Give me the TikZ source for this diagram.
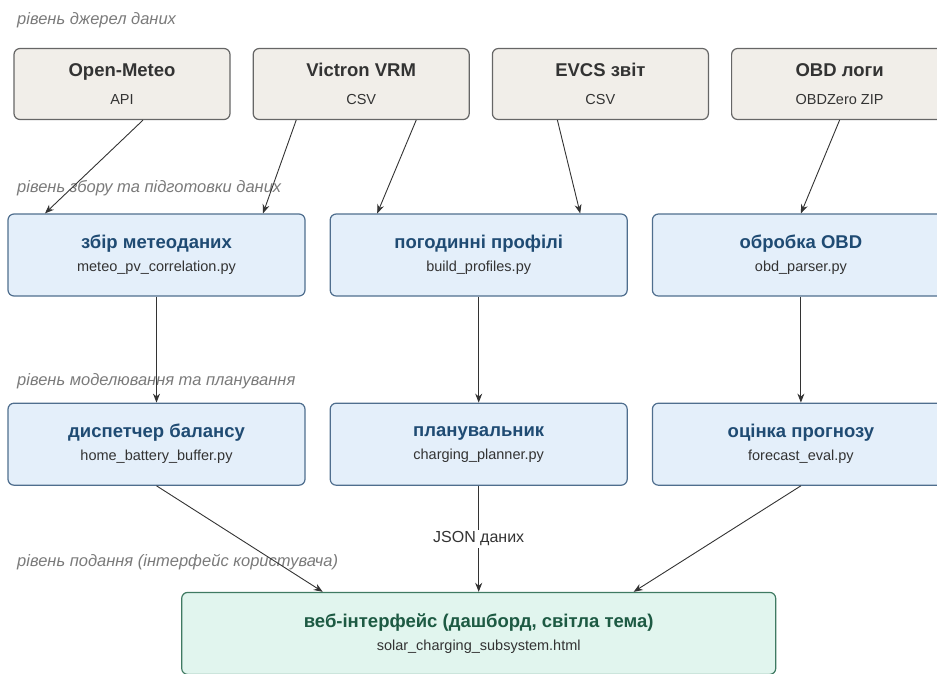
\documentclass[tikz,border=0pt]{standalone}
\usepackage{fontspec}
\setmainfont{Liberation Sans}
\usetikzlibrary{positioning, arrows.meta}
\definecolor{srcfill}{HTML}{F1EEE9}
\definecolor{srcline}{HTML}{666666}
\definecolor{procfill}{HTML}{E4EFFA}
\definecolor{procline}{HTML}{4F6E8E}
\definecolor{proctext}{HTML}{1F4B73}
\definecolor{webfill}{HTML}{E1F5EE}
\definecolor{webline}{HTML}{3F7A62}
\definecolor{webtext}{HTML}{1D5A43}
\definecolor{lvlgray}{HTML}{7A7A7A}
\newcommand\ttlfont{\fontsize{18.5}{21}\selectfont\bfseries}
\tikzset{
  srcbox/.style  = {draw=srcline, fill=srcfill, line width=1.2pt, rounded corners=6pt, minimum width=216pt, minimum height=71pt, align=center, text=black!80, font=\fontsize{14.5}{16}\selectfont},
  procbox/.style = {draw=procline, fill=procfill, line width=1.2pt, rounded corners=6pt, minimum width=297pt, minimum height=82pt, align=center, text=black!80, font=\fontsize{14.5}{16}\selectfont},
  webbox/.style  = {draw=webline, fill=webfill, line width=1.2pt, rounded corners=6pt, minimum width=594pt, minimum height=82pt, align=center, text=black!80, font=\fontsize{14.5}{16}\selectfont},
  lvl/.style     = {anchor=west, inner sep=0pt, text=lvlgray, font=\fontsize{16.5}{18}\selectfont\itshape},
  arrow/.style   = {-{Stealth[length=9pt, width=7pt]}, line width=0.9pt, draw=black!80}
}

\begin{document}
\begin{tikzpicture}[x=1pt, y=-1pt]
  \clip (0,0) rectangle (937,673);
  % level captions
  \node[lvl] (lvlsrc)  at (17,20)  {рівень джерел даних};
  \node[lvl] (lvlprep) at (17,188) {рівень збору та підготовки даних};
  \node[lvl] (lvlmod)  at (17,381) {рівень моделювання та планування};
  \node[lvl] (lvlui)   at (17,562) {рівень подання (інтерфейс користувача)};

  % data sources
  \node[srcbox] (om) at (122,84) {{\ttlfont Open-Meteo}\\[12pt] API};
  \node[srcbox, right=22pt of om]   (vrm)  {{\ttlfont Victron VRM}\\[12pt] CSV};
  \node[srcbox, right=22pt of vrm]  (evcs) {{\ttlfont EVCS звіт}\\[12pt] CSV};
  \node[srcbox, right=22pt of evcs] (obd)  {{\ttlfont OBD логи}\\[12pt] OBDZero ZIP};

  % preparation
  \node[procbox] (meteo) at (156.5,255) {{\ttlfont\color{proctext} збір метеоданих}\\[7pt] meteo\_pv\_correlation.py};
  \node[procbox, right=24pt of meteo] (prof) {{\ttlfont\color{proctext} погодинні профілі}\\[7pt] build\_profiles.py};
  \node[procbox, right=24pt of prof]  (obdp) {{\ttlfont\color{proctext} обробка OBD}\\[7pt] obd\_parser.py};

  % modelling
  \node[procbox, below=106pt of meteo] (disp) {{\ttlfont\color{proctext} диспетчер балансу}\\[7pt] home\_battery\_buffer.py};
  \node[procbox, below=106pt of prof]  (plan) {{\ttlfont\color{proctext} планувальник}\\[7pt] charging\_planner.py};
  \node[procbox, below=106pt of obdp]  (fcst) {{\ttlfont\color{proctext} оцінка прогнозу}\\[7pt] forecast\_eval.py};

  % presentation
  \node[webbox, below=106pt of plan] (web) {{\ttlfont\color{webtext} веб-інтерфейс (дашборд, світла тема)}\\[7pt] solar\_charging\_subsystem.html};

  \draw[arrow] ([xshift=21pt]om.south)   -- ([xshift=-111.5pt]meteo.north);
  \draw[arrow] ([xshift=-65pt]vrm.south) -- ([xshift=106.5pt]meteo.north);
  \draw[arrow] ([xshift=55pt]vrm.south)  -- ([xshift=-101.5pt]prof.north);
  \draw[arrow] ([xshift=-43pt]evcs.south) -- ([xshift=101.5pt]prof.north);
  \draw[arrow] (obd.south) -- (obdp.north);
  \draw[arrow] (meteo) -- (disp);
  \draw[arrow] (prof) -- (plan);
  \draw[arrow] (obdp) -- (fcst);
  \draw[arrow] (disp.south) -- ([xshift=-156pt]web.north);
  \draw[arrow] (plan) -- node[fill=white, inner sep=2pt, font=\fontsize{16}{18}\selectfont, text=black!80] (json) {JSON даних} (web);
  \draw[arrow] (fcst.south) -- ([xshift=155pt]web.north);
\end{tikzpicture}
\end{document}
